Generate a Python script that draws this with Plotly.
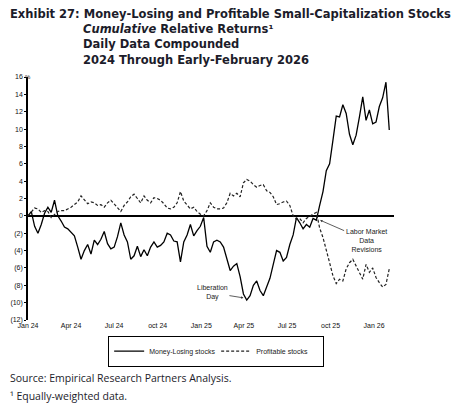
import pandas as pd
import plotly.graph_objects as go

# weekly observations, Jan 2024 through early Feb 2026
dates = pd.date_range("2024-01-01", periods=110, freq="7D")

# cumulative relative returns (%)
money_losing = [
    0.0, 0.5, -1.2, -2.0, -1.0, 0.3, 1.0, 0.4, 1.8, 0.0,
    -0.6, -1.3, -1.5, -1.9, -2.3, -3.6, -5.0, -4.0, -3.3, -4.4,
    -2.8, -3.3, -2.7, -1.8, -3.2, -3.8, -3.6, -2.4, -0.8, -2.2,
    -3.0, -5.0, -4.6, -3.5, -4.7, -3.9, -4.6, -3.6, -3.0, -3.6,
    -3.4, -3.0, -2.0, -2.2, -2.9, -3.0, -5.3, -3.0, -2.2, -1.0,
    -2.3, -1.7, -1.2, -0.2, -3.5, -4.2, -3.0, -2.8, -3.0, -3.6,
    -5.0, -6.3, -5.8, -5.5, -7.0, -9.0, -9.7, -9.2, -8.0, -7.5,
    -8.6, -9.2, -8.2, -7.2, -5.6, -4.0, -4.2, -5.2, -4.8, -3.3,
    -2.2, -0.2, -0.8, -1.5, -1.0, -1.3, -0.3, -0.5, 1.2, 2.8,
    5.2, 6.0, 8.7, 11.5, 11.4, 12.8, 11.8, 9.4, 8.2, 9.3,
    11.4, 13.7, 11.0, 12.2, 10.6, 10.8, 12.6, 13.6, 15.4, 9.9,
]
profitable = [
    0.0, 0.5, 0.9, 0.8, 0.4, 0.6, 0.5, -0.2, 0.2, 0.5,
    0.6, 0.6, 0.8, 1.0, 1.3, 1.6, 2.3, 1.8, 1.4, 1.6,
    1.5, 1.2, 1.3, 1.0, 1.5, 1.8, 1.4, 0.9, 0.5, 1.2,
    1.6, 2.2, 2.5, 2.0, 1.5, 2.3, 1.8, 1.5, 2.1, 2.0,
    1.8, 1.4, 0.9, 0.8, 1.0, 1.5, 2.8, 1.7, 1.2, 0.8,
    1.0, 0.5, 0.2, 0.0, 0.6, 1.5, 1.0, 0.8, 0.8, 0.9,
    1.5, 2.6, 2.3, 2.6, 2.2, 3.8, 4.2, 4.0, 3.6, 3.3,
    3.5, 3.6, 2.9, 2.7, 2.2, 1.3, 1.4, 1.6, 1.7, 1.2,
    0.0, -0.4, -0.3, -0.8, -0.3, 0.0, 0.2, 0.4, -1.4, -2.5,
    -3.8, -5.4, -6.9, -7.8, -7.3, -7.5, -6.1, -5.4, -5.0, -5.8,
    -6.5, -7.3, -5.6, -6.5, -6.0, -7.1, -7.7, -8.2, -7.9, -6.1,
]

x_tickvals = ["2024-01-01", "2024-04-01", "2024-07-01", "2024-10-01", "2025-01-01",
              "2025-04-01", "2025-07-01", "2025-10-01", "2026-01-01"]
x_ticktext = ["Jan 24", "Apr 24", "Jul 24", "oct 24", "Jan 25",
              "Apr 25", "Jul 25", "oct 25", "Jan 26"]
y_tickvals = list(range(-12, 17, 2))
y_ticktext = [f"({abs(v)})" if v < 0 else str(v) for v in y_tickvals]

TITLE_FONT = "DejaVu Sans, Open Sans, sans-serif"
BODY_FONT = "Open Sans, DejaVu Sans, sans-serif"
NARROW = "Liberation Sans Narrow, Arial Narrow, Liberation Sans, sans-serif"
INK = "#1c1c2a"

fig = go.Figure()
fig.add_trace(go.Scatter(
    x=dates, y=money_losing, mode="lines", name="Money-Losing stocks",
    line=dict(color="black", width=1.3),
))
fig.add_trace(go.Scatter(
    x=dates, y=profitable, mode="lines", name="Profitable stocks",
    line=dict(color="#222222", width=1.2, dash="3px,2px"),
))

# title block
title_lines = [
    (-0.0519, 1.259, "Exhibit 27: Money-Losing and Profitable Small-Capitalization Stocks"),
    (0.1475, 1.196, "<i>Cumulative</i> Relative Returns¹"),
    (0.1475, 1.134, "Daily Data Compounded"),
    (0.1475, 1.072, "2024 Through Early-February 2026"),
]
for tx, ty, txt in title_lines:
    fig.add_annotation(
        x=tx, y=ty, xref="paper", yref="paper", text=txt, showarrow=False,
        xanchor="left", yanchor="middle", align="left", borderpad=0,
        font=dict(family=TITLE_FONT, size=11.5, color=INK, weight="bold"),
    )

fig.add_shape(type="line", xref="paper", yref="paper",
              x0=-0.0546, x1=1.1667, y0=1.296, y1=1.296,
              line=dict(color="#555555", width=1))

# footer
fig.add_annotation(x=-0.0519, y=-0.2387, xref="paper", yref="paper",
                   text="Source: Empirical Research Partners Analysis.",
                   showarrow=False, xanchor="left", yanchor="middle", borderpad=0,
                   font=dict(family=BODY_FONT, size=10.5, color=INK))
fig.add_annotation(x=-0.0519, y=-0.3128, xref="paper", yref="paper",
                   text="¹ Equally-weighted data.",
                   showarrow=False, xanchor="left", yanchor="middle", borderpad=0,
                   font=dict(family=BODY_FONT, size=10.5, color=INK))

# axis unit
fig.add_annotation(x=-0.0137, y=1.02, xref="paper", yref="paper", text="%",
                   showarrow=False, font=dict(family=NARROW, size=6, color="#222"))

# event callouts
fig.add_annotation(x="2025-03-31", y=-9.45, text="Liberation<br>Day",
                   showarrow=True, arrowhead=2, arrowsize=0.6, arrowwidth=0.8,
                   arrowcolor="#333", ax=-31, ay=-5,
                   font=dict(family=NARROW, size=7, color="#222"))
fig.add_annotation(x="2025-09-09", y=-0.5, text="Labor Market<br>Data<br>Revisions",
                   showarrow=True, arrowhead=2, arrowsize=0.6, arrowwidth=0.8,
                   arrowcolor="#333", ax=46, ay=20,
                   font=dict(family=NARROW, size=7, color="#222"))

# page body adds an 8px margin, so the figure is shrunk and shifted to fit
fig.update_layout(
    width=452, height=399,
    margin=dict(l=20, r=66, t=69, b=87),
    paper_bgcolor="white", plot_bgcolor="white",
    showlegend=True,
    legend=dict(
        orientation="h", x=0.219, xanchor="left", y=-0.064, yanchor="top",
        bordercolor="black", borderwidth=1, bgcolor="white",
        font=dict(family=NARROW, size=7, color="#222"),
        entrywidth=62, entrywidthmode="pixels", itemwidth=30,
        tracegroupgap=0,
    ),
    xaxis=dict(
        type="date", range=["2024-01-01", "2026-02-12"], automargin=False,
        tickvals=x_tickvals, ticktext=x_ticktext,
        showgrid=False, zeroline=False, showline=False, ticks="",
        tickfont=dict(family=NARROW, size=7, color="#111"),
    ),
    yaxis=dict(
        range=[-12, 16], tickvals=y_tickvals, ticktext=y_ticktext, automargin=False,
        showgrid=False, showline=True, linecolor="black", linewidth=1.5,
        ticks="outside", ticklen=2, tickcolor="black",
        zeroline=True, zerolinecolor="black", zerolinewidth=1.5,
        tickfont=dict(family=NARROW, size=7, color="#111"),
    ),
)

fig.write_html("out.html")
